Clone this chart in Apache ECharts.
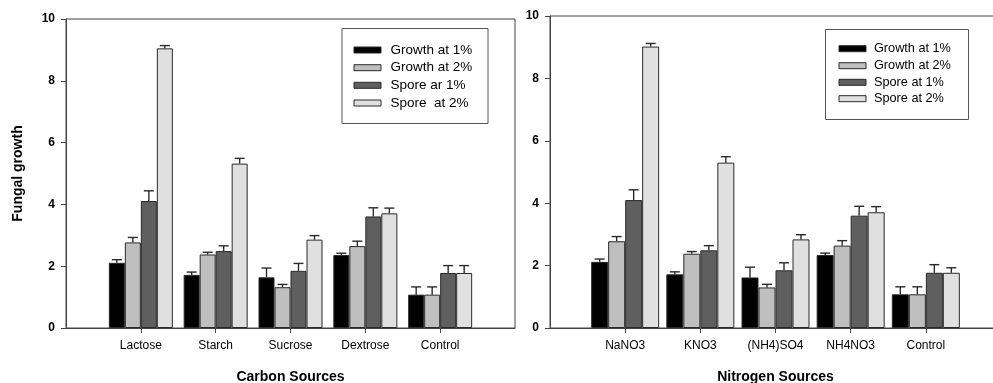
<!DOCTYPE html>
<html>
<head>
<meta charset="utf-8">
<script src="https://cdn.jsdelivr.net/npm/echarts@6/dist/echarts.min.js"></script>
<style>
html,body{margin:0;padding:0;background:#fff;}
#chart{width:993px;height:383px;}
</style>
</head>
<body>
<div id="chart"></div>
<script>
// ---------- DATA ----------
const carbonCategories = ['Lactose', 'Starch', 'Sucrose', 'Dextrose', 'Control'];
const nitrogenCategories = ['NaNO3', 'KNO3', '(NH4)SO4', 'NH4NO3', 'Control'];
const carbonSeriesNames = ['Growth at 1%', 'Growth at 2%', 'Spore ar 1%', 'Spore  at 2%'];
const nitrogenSeriesNames = ['Growth at 1%', 'Growth at 2%', 'Spore at 1%', 'Spore at 2%'];
const carbonAxisTitle = 'Carbon Sources';
const nitrogenAxisTitle = 'Nitrogen Sources';
const yAxisTitle = 'Fungal growth';
const yTickMin = 0, yTickMax = 10, yTickStep = 2;

// Carbon sources (mean values and upper error)
const carbonGrowth1 = [2.11, 1.72, 1.64, 2.36, 1.08];
const carbonGrowth1Err = [0.10, 0.09, 0.30, 0.06, 0.25];
const carbonGrowth2 = [2.77, 2.38, 1.32, 2.65, 1.08];
const carbonGrowth2Err = [0.16, 0.07, 0.09, 0.16, 0.25];
const carbonSpore1 = [4.11, 2.49, 1.85, 3.61, 1.78];
const carbonSpore1Err = [0.33, 0.17, 0.24, 0.28, 0.24];
const carbonSpore2 = [9.05, 5.32, 2.86, 3.71, 1.78];
const carbonSpore2Err = [0.09, 0.17, 0.13, 0.17, 0.24];

// Nitrogen sources
const nitrogenGrowth1 = [2.12, 1.72, 1.62, 2.34, 1.08];
const nitrogenGrowth1Err = [0.09, 0.08, 0.33, 0.06, 0.24];
const nitrogenGrowth2 = [2.78, 2.38, 1.30, 2.64, 1.08];
const nitrogenGrowth2Err = [0.15, 0.07, 0.10, 0.16, 0.24];
const nitrogenSpore1 = [4.10, 2.49, 1.85, 3.60, 1.77];
const nitrogenSpore1Err = [0.33, 0.15, 0.24, 0.30, 0.26];
const nitrogenSpore2 = [9.02, 5.30, 2.84, 3.71, 1.77];
const nitrogenSpore2Err = [0.10, 0.19, 0.15, 0.18, 0.16];

// ---------- STYLE ----------
const FONT = "'Liberation Sans', Arial, sans-serif";
const fills = ['#000000', '#bfbfbf', '#5f5f5f', '#e0e0e0'];
const barBorder = '#2a2a2a';
const axisColor = '#444';

const carbonVals = [carbonGrowth1, carbonGrowth2, carbonSpore1, carbonSpore2];
const carbonErrs = [carbonGrowth1Err, carbonGrowth2Err, carbonSpore1Err, carbonSpore2Err];
const nitrogenVals = [nitrogenGrowth1, nitrogenGrowth2, nitrogenSpore1, nitrogenSpore2];
const nitrogenErrs = [nitrogenGrowth1Err, nitrogenGrowth2Err, nitrogenSpore1Err, nitrogenSpore2Err];

function padCats(c) { return [''].concat(c, ['']); }

function xAxisCfg(cats, title, gridIndex) {
  return {
    type: 'category', gridIndex: gridIndex, data: padCats(cats), boundaryGap: false,
    name: title, nameLocation: 'middle', nameGap: 42,
    nameTextStyle: { fontFamily: FONT, fontSize: 14, fontWeight: 'bold', color: '#000' },
    axisLine: { lineStyle: { color: axisColor, width: 1 } },
    axisTick: { show: true, length: 5, inside: false, lineStyle: { color: axisColor },
      interval: function (i, v) { return v !== ''; } },
    axisLabel: { fontFamily: FONT, fontSize: 12, color: '#000', margin: 12,
      interval: 0 },
    splitLine: { show: false }
  };
}
function yAxisCfg(gridIndex, withName) {
  const c = {
    type: 'value', gridIndex: gridIndex, min: yTickMin, max: yTickMax, interval: yTickStep,
    axisLine: { show: true, lineStyle: { color: axisColor, width: 1 } },
    axisTick: { show: true, length: 5, inside: false, lineStyle: { color: axisColor } },
    axisLabel: { fontFamily: FONT, fontSize: 12, fontWeight: 'bold', color: '#000', margin: 11 },
    splitLine: { show: false }
  };
  if (withName) {
    c.name = yAxisTitle; c.nameLocation = 'middle'; c.nameGap = 41;
    c.nameTextStyle = { fontFamily: FONT, fontSize: 14, fontWeight: 'bold', color: '#000' };
  }
  return c;
}

function buildSeries(vals, errs, names, gridIndex, barW) {
  const out = [];
  vals.forEach(function (arr, s) {
    out.push({
      type: 'bar', name: names[s], xAxisIndex: gridIndex, yAxisIndex: gridIndex,
      data: ['-'].concat(arr, ['-']), barWidth: barW, barGap: '0%',
      itemStyle: { color: fills[s], borderColor: barBorder, borderWidth: 1 },
      silent: true, animation: false
    });
  });
  vals.forEach(function (arr, s) {
    const d = arr.map(function (v, i) { return [i + 1, v, v + errs[s][i]]; });
    out.push({
      type: 'custom', xAxisIndex: gridIndex, yAxisIndex: gridIndex, data: d, silent: true,
      animation: false, z: 5,
      renderItem: function (params, api) {
        const base = api.coord([api.value(0), api.value(1)]);
        const top = api.coord([api.value(0), api.value(2)]);
        const x = base[0] + (s - 1.5) * barW;
        const half = 5;
        return {
          type: 'group',
          children: [
            { type: 'line', shape: { x1: x, y1: base[1], x2: x, y2: top[1] },
              style: { stroke: '#2a2a2a', lineWidth: 1.4 } },
            { type: 'line', shape: { x1: x - half, y1: top[1], x2: x + half, y2: top[1] },
              style: { stroke: '#2a2a2a', lineWidth: 1.4 } }
          ]
        };
      }
    });
  });
  return out;
}

function legendGraphic(names, box, sw, rowY, fontSize) {
  const els = [{
    type: 'rect', shape: { x: box.x, y: box.y, width: box.w, height: box.h },
    style: { fill: '#fff', stroke: '#555', lineWidth: 1 }, z: 10
  }];
  names.forEach(function (n, i) {
    els.push({
      type: 'rect', shape: { x: sw.x, y: rowY[i] - 3, width: sw.w, height: 6 },
      style: { fill: fills[i], stroke: barBorder, lineWidth: 1 }, z: 11
    });
    els.push({
      type: 'text', x: sw.tx, y: rowY[i],
      style: { text: n, fill: '#000', font: fontSize + 'px ' + FONT, verticalAlign: 'middle', align: 'left' },
      z: 11
    });
  });
  return els;
}

const chart = echarts.init(document.getElementById('chart'), null, { renderer: 'canvas' });
chart.setOption({
  animation: false,
  backgroundColor: '#fff',
  grid: [
    { left: 66, top: 19, width: 449, height: 309, show: true, borderColor: axisColor, borderWidth: 1,
      backgroundColor: 'transparent', containLabel: false, outerBoundsMode: 'none' },
    { left: 550, top: 16, width: 451, height: 312, show: true, borderColor: axisColor, borderWidth: 1,
      backgroundColor: 'transparent', containLabel: false, outerBoundsMode: 'none' }
  ],
  xAxis: [xAxisCfg(carbonCategories, carbonAxisTitle, 0), xAxisCfg(nitrogenCategories, nitrogenAxisTitle, 1)],
  yAxis: [yAxisCfg(0, true), yAxisCfg(1, false)],
  series: buildSeries(carbonVals, carbonErrs, carbonSeriesNames, 0, 16)
    .concat(buildSeries(nitrogenVals, nitrogenErrs, nitrogenSeriesNames, 1, 17)),
  graphic: legendGraphic(carbonSeriesNames, { x: 342, y: 28.5, w: 146, h: 95 },
      { x: 354, w: 27, tx: 390.5 }, [50, 67.7, 85.3, 103], 13.5)
    .concat(legendGraphic(nitrogenSeriesNames, { x: 825.5, y: 29.5, w: 143, h: 90 },
      { x: 839, w: 27, tx: 874 }, [48.7, 65.7, 82.3, 98.7], 12.7))
});
</script>
</body>
</html>
